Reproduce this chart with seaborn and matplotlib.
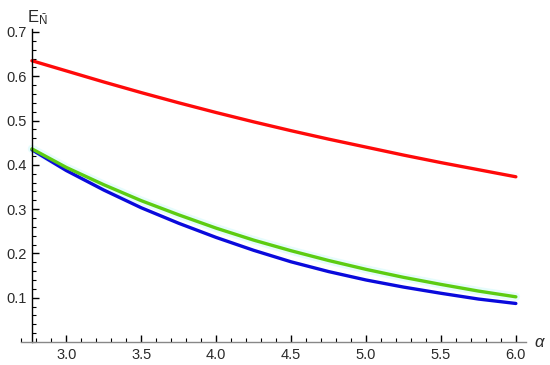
import numpy as np
import pandas as pd
import matplotlib
matplotlib.use("Agg")
import matplotlib.pyplot as plt
from matplotlib.ticker import MultipleLocator
import seaborn as sns

# values
alpha = [2.77, 3.0, 3.25, 3.5, 3.75, 4.0, 4.25, 4.5, 4.75, 5.0, 5.25, 5.5, 5.75, 6.0]
red_curve = [0.635, 0.612, 0.587, 0.563, 0.540, 0.518, 0.497, 0.477, 0.458, 0.440, 0.422, 0.405, 0.389, 0.373]
green_curve = [0.436, 0.394, 0.355, 0.319, 0.287, 0.257, 0.230, 0.206, 0.184, 0.164, 0.146, 0.130, 0.115, 0.102]
blue_curve = [0.434, 0.387, 0.343, 0.303, 0.268, 0.236, 0.207, 0.181, 0.159, 0.140, 0.124, 0.110, 0.097, 0.087]

df = pd.DataFrame({
    "alpha": alpha * 3,
    "E": blue_curve + green_curve + red_curve,
    "curve": ["blue"] * len(alpha) + ["green"] * len(alpha) + ["red"] * len(alpha),
})

sns.set_theme(style="white")
plt.rcParams['font.family'] = ['Liberation Sans', 'DejaVu Sans']
plt.rcParams['mathtext.fontset'] = 'custom'
plt.rcParams['mathtext.rm'] = 'Liberation Sans'
plt.rcParams['mathtext.it'] = 'Liberation Sans:italic'

fig = plt.figure(figsize=(5.5, 3.65), dpi=100)
ax = fig.add_axes([0.039, 0.063, 0.918, 0.858])

# faint cyan halo seen under the green curve
sns.lineplot(x=alpha, y=green_curve, color="#e6fcfc", linewidth=6, ax=ax)
sns.lineplot(data=df, x="alpha", y="E", hue="curve",
             palette={"blue": "#0a0adc", "green": "#5ccc12", "red": "#ff0a0a"},
             linewidth=2.4, legend=False, ax=ax)

ax.set_xlim(2.70, 6.07)
ax.set_ylim(0, 0.707)
ax.set_xlabel("")
ax.set_ylabel("")

ax.spines['top'].set_visible(False)
ax.spines['right'].set_visible(False)
ax.spines['left'].set_position(('data', 2.77))
ax.spines['left'].set_color('black')
ax.spines['left'].set_linewidth(1.0)
ax.spines['bottom'].set_color('#888888')
ax.spines['bottom'].set_linewidth(1.0)

ax.xaxis.set_major_locator(MultipleLocator(0.5))
ax.xaxis.set_minor_locator(MultipleLocator(0.1))
ax.yaxis.set_major_locator(MultipleLocator(0.1))
ax.yaxis.set_minor_locator(MultipleLocator(0.02))
ax.set_xticks([3.0, 3.5, 4.0, 4.5, 5.0, 5.5, 6.0])
ax.set_xticklabels(["3.0", "3.5", "4.0", "4.5", "5.0", "5.5", "6.0"])
ax.set_yticks([0.1, 0.2, 0.3, 0.4, 0.5, 0.6, 0.7])
ax.set_yticklabels(["0.1", "0.2", "0.3", "0.4", "0.5", "0.6", "0.7"])

ax.tick_params(which='major', direction='in', length=5, width=1, color='black',
               labelsize=10.5, labelcolor='#2a2a2a', pad=4)
ax.tick_params(which='minor', direction='in', length=3, width=0.8, color='black')
ax.tick_params(axis='x', which='both', bottom=True)
ax.tick_params(axis='y', which='both', left=True)

ax.text(6.12, 0.0, r"$\alpha$", fontsize=12, color='#2a2a2a',
        ha='left', va='center', clip_on=False)
ax.text(2.74, 0.712, r"$\mathrm{E}_{\bar{\mathrm{N}}}$", fontsize=12, color='#2a2a2a',
        ha='left', va='bottom', clip_on=False)

fig.savefig("out.png", dpi=100)
